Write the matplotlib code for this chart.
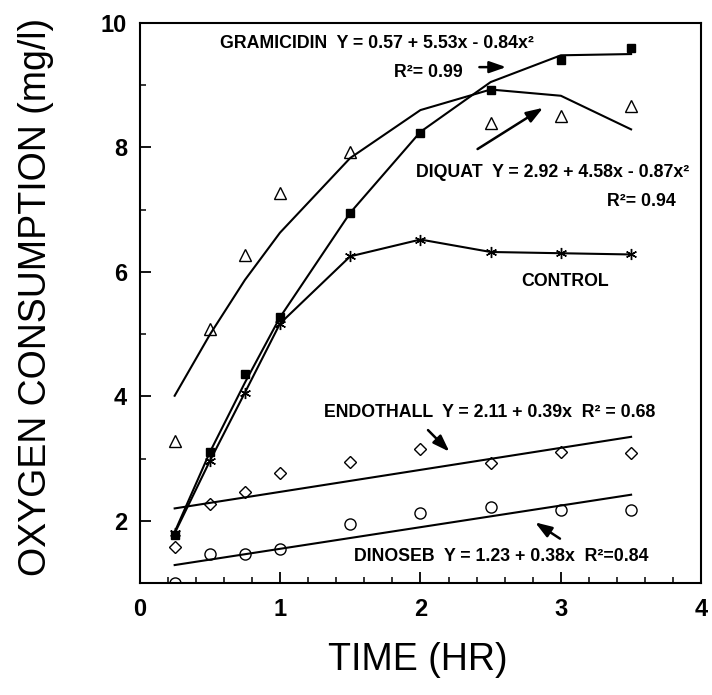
import numpy as np
import matplotlib
matplotlib.use('Agg')
import matplotlib.pyplot as plt
from matplotlib.ticker import MultipleLocator

#-- data --
time = [0.25, 0.5, 0.75, 1.0, 1.5, 2.0, 2.5, 3.0, 3.5]
#- measured points -
gram_obs = [1.78, 3.10, 4.36, 5.27, 6.95, 8.23, 8.92, 9.41, 9.59]
ctrl_obs = [1.80, 2.96, 4.06, 5.17, 6.25, 6.52, 6.32, 6.30, 6.28]
diq_time = [0.25, 0.5, 0.75, 1.0, 1.5, 2.5, 3.0, 3.5]
diq_obs = [3.29, 5.08, 6.27, 7.27, 7.93, 8.40, 8.50, 8.66]
endo_obs = [1.58, 2.27, 2.47, 2.77, 2.95, 3.15, 2.93, 3.11, 3.09]
dino_obs = [1.00, 1.46, 1.46, 1.55, 1.95, 2.13, 2.22, 2.18, 2.17]
#- fitted curves (as drawn) -
gram_fit = [1.82, 3.10, 4.22, 5.27, 6.95, 8.25, 9.05, 9.48, 9.50]
diq_fit = [4.01, 4.99, 5.87, 6.63, 7.83, 8.60, 8.93, 8.83, 8.29]
lin_time = [0.25, 3.5]
endo_fit = [2.20, 3.35]
dino_fit = [1.29, 2.42]

plt.rcParams['font.family'] = ['Liberation Sans', 'DejaVu Sans']

fig = plt.figure(figsize=(7.12, 6.95), dpi=100)
ax = fig.add_axes([0.196, 0.161, 0.789, 0.806])

k = dict(color='k', lw=1.5)
ax.plot(time, gram_fit, **k)
ax.plot(time, gram_obs, ls='none', marker='s', ms=5.5, mfc='k', mec='k')
ax.plot(time, ctrl_obs, marker=(6, 2, 0), ms=8, mew=1.0, **k)
ax.plot(time, diq_fit, **k)
ax.plot(diq_time, diq_obs, ls='none', marker='^', ms=8, mfc='none', mec='k', mew=1.0)
ax.plot(lin_time, endo_fit, **k)
ax.plot(time, endo_obs, ls='none', marker='D', ms=6, mfc='none', mec='k', mew=1.0)
ax.plot(lin_time, dino_fit, **k)
ax.plot(time, dino_obs, ls='none', marker='o', ms=8, mfc='none', mec='k', mew=1.0)

#-- annotations --
tk = dict(fontsize=12.8, fontweight='bold', va='center', ha='left')
ax.text(0.57, 9.67, 'GRAMICIDIN  Y = 0.57 + 5.53x - 0.84x²', **tk)
ax.text(1.81, 9.20, 'R²= 0.99', **tk)
ax.text(1.97, 7.59, 'DIQUAT  Y = 2.92 + 4.58x - 0.87x²', **tk)
ax.text(3.33, 7.13, 'R²= 0.94', **tk)
ax.text(3.03, 5.84, 'CONTROL', **dict(tk, ha='center'))
ax.text(1.31, 3.74, 'ENDOTHALL  Y = 2.11 + 0.39x  R² = 0.68', **tk)
ax.text(1.53, 1.42, 'DINOSEB  Y = 1.23 + 0.38x  R²=0.84', **tk)

ap = dict(arrowstyle='-|>,head_length=1.0,head_width=0.35', color='k', lw=1.8)
ax.annotate('', xy=(2.63, 9.29), xytext=(2.40, 9.29), arrowprops=ap)
ax.annotate('', xy=(2.89, 8.66), xytext=(2.39, 7.95), arrowprops=ap)
ax.annotate('', xy=(2.22, 3.08), xytext=(2.04, 3.49), arrowprops=ap)
ax.annotate('', xy=(2.80, 2.00), xytext=(3.01, 1.69), arrowprops=ap)

#-- axes --
ax.set_xlim(0, 4)
ax.set_ylim(1.0, 10)
ax.set_xticks([0, 1, 2, 3, 4])
ax.set_yticks([2, 4, 6, 8, 10])
ax.xaxis.set_minor_locator(MultipleLocator(0.2))
ax.yaxis.set_minor_locator(MultipleLocator(1))
ax.tick_params(which='major', direction='in', length=8, width=1.3, labelsize=17)
ax.tick_params(which='minor', direction='in', length=4, width=1.1)
ax.tick_params(axis='x', pad=11)
ax.tick_params(axis='y', pad=9)
for lab in ax.get_xticklabels() + ax.get_yticklabels():
    lab.set_fontweight('bold')
for sp in ax.spines.values():
    sp.set_linewidth(1.5)

fig.text(0.051, 0.573, 'OXYGEN CONSUMPTION (mg/l)', rotation=90, fontsize=27,
         ha='center', va='center')
fig.text(0.587, 0.05, 'TIME (HR)', fontsize=27, ha='center', va='center')

fig.savefig('out.png', dpi=100)
